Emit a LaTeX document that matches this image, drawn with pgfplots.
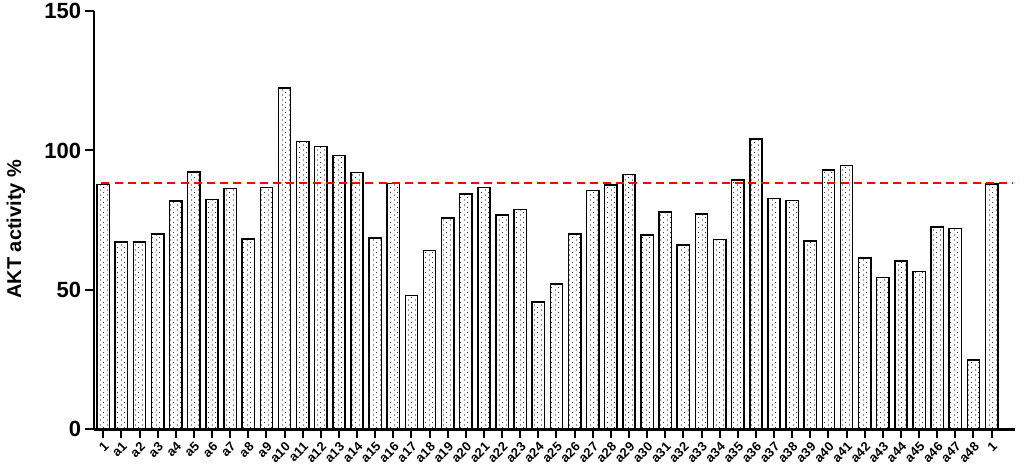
\documentclass[border=0pt]{standalone}
\usepackage{fontspec}
\setmainfont{Liberation Sans}
\usepackage{pgfplots}
\usepackage{pgfplotstable}
\pgfplotsset{compat=1.18}
\usetikzlibrary{patterns}

% sparse staggered dots, as in the bars of the original
\pgfdeclarepatternformonly{sparse dots}{\pgfpointorigin}{\pgfqpoint{3.3pt}{2.7pt}}{\pgfqpoint{3.3pt}{2.7pt}}{%
  \pgfpathcircle{\pgfqpoint{0.8pt}{0.6pt}}{0.33pt}%
  \pgfpathcircle{\pgfqpoint{2.45pt}{1.95pt}}{0.33pt}%
  \pgfusepath{fill}}

\pgfplotstableread{
x y
0 87.8
1 67.2
2 67.2
3 70.0
4 81.9
5 92.3
6 82.5
7 86.4
8 68.2
9 86.7
10 122.4
11 103.3
12 101.4
13 98.2
14 92.1
15 68.6
16 88.2
17 48.0
18 64.1
19 75.8
20 84.4
21 86.7
22 76.8
23 78.8
24 45.6
25 52.2
26 70.0
27 85.6
28 87.7
29 91.4
30 69.7
31 77.9
32 66.1
33 77.2
34 68.0
35 89.5
36 104.1
37 82.8
38 82.0
39 67.5
40 93.0
41 94.7
42 61.4
43 54.4
44 60.3
45 56.7
46 72.5
47 72.1
48 24.8
49 88.0
}\akt

\begin{document}
\begin{tikzpicture}
\begin{axis}[
    width=460.5pt, height=209.2pt, scale only axis,
    xmin=-0.51, xmax=50.29,
    ymin=0, ymax=150,
    axis x line*=bottom, axis y line*=left,
    axis line style={line width=1.3pt, -},
    ytick={0,50,100,150},
    xtick={0,...,49},
    xticklabels={1,a1,a2,a3,a4,a5,a6,a7,a8,a9,a10,a11,a12,a13,a14,a15,a16,a17,a18,a19,a20,a21,a22,a23,a24,a25,a26,a27,a28,a29,a30,a31,a32,a33,a34,a35,a36,a37,a38,a39,a40,a41,a42,a43,a44,a45,a46,a47,a48,1},
    tick align=outside,
    major tick length=4.3pt,
    tick style={line width=1pt, black},
    /pgf/number format/assume math mode=true,
    yticklabel style={font=\bfseries\fontsize{11}{11}\selectfont, inner sep=2pt},
    xticklabel style={font=\bfseries\fontsize{6.5}{6.5}\selectfont, rotate=45, anchor=north east, inner sep=1pt},
    ylabel={AKT activity \%},
    ylabel style={font=\bfseries\fontsize{10}{12}\selectfont, yshift=4pt, xshift=-4.5pt},
]
\addplot[ybar, bar width=0.68, draw=black, line width=0.75pt, pattern=sparse dots, pattern color=black!85]
    table[x=x, y=y] {\akt};
\addplot[red, line width=1pt, dash pattern=on 4pt off 2.6pt]
    coordinates {(-0.1,88.2) (50.2,88.2)};
\end{axis}
\pgfresetboundingbox
\path[use as bounding box] (-47pt,-22pt) rectangle (465pt,214.7pt);
\end{tikzpicture}
\end{document}
